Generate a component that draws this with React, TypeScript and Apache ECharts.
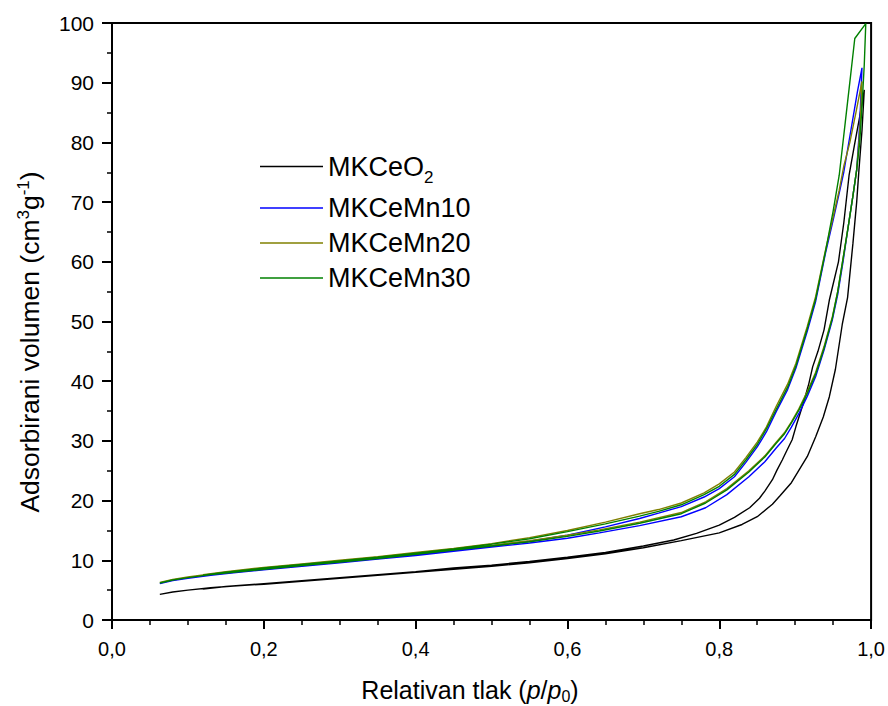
import React, { useEffect, useRef } from "react";
import * as echarts from "echarts";

const seriesNames = ["MKCeO2", "MKCeMn10", "MKCeMn20", "MKCeMn30"];
const seriesColors = ["#000000", "#0000ff", "#808000", "#008000"];

const xMin = 0;
const xMax = 1;
const xStep = 0.2;
const yMin = 0;
const yMax = 100;
const yStep = 10;

// MKCeO2 adsorption / desorption [p/p0, V]
const ceO2Ads: number[][] = [
  [0.063, 4.3], [0.08, 4.7], [0.1, 5.0], [0.13, 5.4], [0.16, 5.7], [0.2, 6.0], [0.25, 6.5], [0.3, 7.0],
  [0.35, 7.5], [0.4, 8.0], [0.45, 8.5], [0.5, 9.0], [0.55, 9.6], [0.6, 10.3], [0.65, 11.1], [0.7, 12.1],
  [0.75, 13.3], [0.8, 14.6], [0.83, 16.0], [0.85, 17.3], [0.87, 19.4], [0.88, 20.8], [0.895, 23.0],
  [0.905, 25.1], [0.916, 27.4], [0.927, 30.7], [0.937, 34.0], [0.945, 37.4], [0.953, 42.0], [0.962, 49.5],
  [0.969, 54.0], [0.976, 63.0], [0.981, 70.0], [0.984, 75.4], [0.988, 82.0], [0.991, 88.8],
];
const ceO2Des: number[][] = [
  [0.991, 88.8], [0.985, 84.3], [0.978, 79.5], [0.971, 74.5], [0.964, 66.5], [0.957, 60.0], [0.945, 53.6],
  [0.938, 48.6], [0.93, 45.0], [0.923, 42.4], [0.918, 39.6], [0.91, 36.0], [0.901, 32.4], [0.896, 30.2],
  [0.889, 28.4], [0.883, 26.8], [0.876, 25.1], [0.87, 23.5], [0.86, 21.6], [0.853, 20.4], [0.84, 18.8],
  [0.82, 17.2], [0.8, 15.9], [0.77, 14.5], [0.74, 13.4], [0.7, 12.4], [0.65, 11.3], [0.6, 10.5], [0.55, 9.8],
  [0.5, 9.2], [0.45, 8.7], [0.4, 8.1], [0.35, 7.6], [0.3, 7.1], [0.25, 6.6], [0.2, 6.1], [0.15, 5.6], [0.12, 5.2],
];

// MKCeMn10
const mn10Ads: number[][] = [
  [0.063, 6.1], [0.08, 6.6], [0.1, 7.0], [0.13, 7.5], [0.16, 7.9], [0.2, 8.4], [0.25, 9.0], [0.3, 9.6],
  [0.35, 10.2], [0.4, 10.8], [0.45, 11.5], [0.5, 12.2], [0.55, 12.9], [0.6, 13.7], [0.642, 14.6], [0.695, 15.8],
  [0.75, 17.3], [0.782, 18.8], [0.81, 21.0], [0.839, 24.0], [0.86, 26.5], [0.875, 28.8], [0.886, 30.4],
  [0.895, 32.3], [0.905, 34.6], [0.916, 37.5], [0.927, 40.8], [0.938, 45.2], [0.949, 50.3], [0.956, 54.5],
  [0.963, 60.0], [0.97, 66.0], [0.976, 71.0], [0.981, 75.4], [0.984, 81.0], [0.986, 86.0], [0.988, 92.5],
];
const mn10Des: number[][] = [
  [0.988, 92.5], [0.982, 88.5], [0.976, 84.0], [0.97, 79.5], [0.964, 75.0], [0.958, 71.5], [0.95, 67.0],
  [0.94, 61.5], [0.927, 53.4], [0.916, 48.4], [0.901, 42.2], [0.89, 38.6], [0.875, 34.9], [0.862, 31.5],
  [0.85, 29.0], [0.835, 26.4], [0.82, 24.0], [0.8, 22.0], [0.78, 20.6], [0.75, 19.0], [0.72, 17.9],
  [0.695, 17.0], [0.65, 15.6], [0.6, 14.2], [0.55, 13.2], [0.5, 12.4], [0.45, 11.7], [0.4, 11.0],
  [0.35, 10.4], [0.3, 9.8], [0.25, 9.2], [0.2, 8.6], [0.15, 7.9], [0.12, 7.4],
];

// MKCeMn20
const mn20Ads: number[][] = [
  [0.063, 6.3], [0.08, 6.8], [0.1, 7.2], [0.13, 7.7], [0.16, 8.1], [0.2, 8.6], [0.25, 9.2], [0.3, 9.8],
  [0.35, 10.4], [0.4, 11.1], [0.45, 11.8], [0.5, 12.5], [0.55, 13.3], [0.6, 14.2], [0.642, 15.1], [0.695, 16.4],
  [0.75, 18.0], [0.782, 19.8], [0.81, 22.0], [0.839, 25.0], [0.86, 27.5], [0.875, 29.8], [0.886, 31.4],
  [0.895, 33.2], [0.905, 35.4], [0.916, 38.3], [0.927, 41.5], [0.938, 45.8], [0.949, 50.8], [0.956, 55.0],
  [0.963, 60.5], [0.97, 66.0], [0.976, 71.0], [0.981, 75.4], [0.984, 80.0], [0.986, 84.0], [0.988, 90.2],
];
const mn20Des: number[][] = [
  [0.988, 90.2], [0.98, 85.0], [0.972, 80.0], [0.964, 76.0], [0.958, 72.0], [0.95, 67.5], [0.94, 62.0],
  [0.927, 54.2], [0.916, 49.2], [0.901, 43.0], [0.89, 39.5], [0.875, 35.8], [0.862, 32.3], [0.85, 29.8],
  [0.835, 27.2], [0.82, 24.8], [0.8, 22.8], [0.78, 21.3], [0.75, 19.6], [0.72, 18.5], [0.695, 17.8],
  [0.65, 16.4], [0.6, 15.0], [0.55, 13.8], [0.5, 12.8], [0.45, 12.0], [0.4, 11.3], [0.35, 10.6],
  [0.3, 10.0], [0.25, 9.4], [0.2, 8.8], [0.15, 8.1], [0.12, 7.6],
];

// MKCeMn30
const mn30Ads: number[][] = [
  [0.063, 6.2], [0.08, 6.7], [0.1, 7.1], [0.13, 7.6], [0.16, 8.0], [0.2, 8.5], [0.25, 9.1], [0.3, 9.7],
  [0.35, 10.3], [0.4, 11.0], [0.45, 11.7], [0.5, 12.4], [0.55, 13.1], [0.6, 14.0], [0.642, 14.9], [0.695, 16.2],
  [0.75, 17.8], [0.782, 19.6], [0.81, 21.8], [0.839, 24.8], [0.86, 27.3], [0.875, 29.6], [0.886, 31.2],
  [0.895, 33.0], [0.905, 35.2], [0.916, 38.0], [0.927, 41.2], [0.938, 45.5], [0.949, 50.6], [0.956, 55.0],
  [0.963, 60.5], [0.97, 66.0], [0.976, 71.0], [0.981, 75.4], [0.985, 80.0], [0.988, 86.0], [0.991, 93.0],
  [0.993, 99.9],
];
const mn30Des: number[][] = [
  [0.993, 99.9], [0.9785, 97.4], [0.972, 90.1], [0.966, 83.4], [0.958, 74.5], [0.95, 68.5], [0.94, 61.8],
  [0.927, 53.8], [0.916, 48.8], [0.901, 42.6], [0.89, 39.0], [0.875, 35.3], [0.862, 32.0], [0.85, 29.4],
  [0.835, 26.8], [0.82, 24.4], [0.8, 22.4], [0.78, 21.0], [0.75, 19.3], [0.72, 18.2], [0.695, 17.4],
  [0.65, 16.1], [0.6, 14.8], [0.55, 13.6], [0.5, 12.7], [0.45, 11.9], [0.4, 11.2], [0.35, 10.5],
  [0.3, 9.9], [0.25, 9.3], [0.2, 8.7], [0.15, 8.0], [0.12, 7.5],
];

const seriesData: number[][][] = [
  [...ceO2Ads, ...ceO2Des],
  [...mn10Ads, ...mn10Des],
  [...mn20Ads, ...mn20Des],
  [...mn30Ads, ...mn30Des],
];

const FONT = "'Liberation Sans', Arial, Helvetica, sans-serif";

export default function App() {
  const ref = useRef<HTMLDivElement>(null);
  useEffect(() => {
    if (!ref.current) return;
    const chart = echarts.init(ref.current, null, { renderer: "svg" });
    const option: any = {
      animation: false,
      backgroundColor: "#ffffff",
      grid: {
        left: 112,
        right: 16,
        top: 23,
        bottom: 86,
        show: true,
        borderColor: "#000",
        borderWidth: 2,
        backgroundColor: "transparent",
      },
      legend: {
        orient: "vertical",
        left: 260,
        top: 153,
        padding: 0,
        icon: "rect",
        itemWidth: 63,
        itemHeight: 1.6,
        itemGap: 8,
        selectedMode: false,
        data: seriesNames,
        formatter: (name: string) =>
          name === "MKCeO2" ? "{t1|MKCeO}{s|2}" : `{t|${name}}`,
        textStyle: {
          color: "#000",
          fontFamily: FONT,
          fontSize: 27,
          rich: {
            t: { fontSize: 27, lineHeight: 26, fontFamily: FONT, color: "#000" },
            t1: { fontSize: 27, lineHeight: 40, fontFamily: FONT, color: "#000" },
            s: { fontSize: 17, lineHeight: 16, verticalAlign: "bottom", fontFamily: FONT, color: "#000" },
          },
        },
      },
      xAxis: {
        type: "value",
        min: xMin,
        max: xMax,
        interval: xStep,
        axisLine: { onZero: false, lineStyle: { color: "#000", width: 2 } },
        axisTick: { length: 9, lineStyle: { color: "#000", width: 2 } },
        minorTick: { show: true, splitNumber: 4, length: 5, lineStyle: { color: "#000", width: 1.5 } },
        splitLine: { show: false },
        axisLabel: {
          color: "#000",
          fontFamily: FONT,
          fontSize: 20,
          margin: 19,
          formatter: (v: number) => v.toFixed(1).replace(".", ","),
        },
      },
      yAxis: {
        type: "value",
        min: yMin,
        max: yMax,
        interval: yStep,
        axisLine: { onZero: false, lineStyle: { color: "#000", width: 2 } },
        axisTick: { length: 10, lineStyle: { color: "#000", width: 2 } },
        minorTick: { show: true, splitNumber: 2, length: 5, lineStyle: { color: "#000", width: 1.5 } },
        splitLine: { show: false },
        axisLabel: {
          color: "#000",
          fontFamily: FONT,
          fontSize: 21,
          margin: 18,
        },
      },
      graphic: [
        {
          type: "text",
          x: 470,
          y: 690,
          style: {
            text: "{a|Relativan tlak (}{i|p}{a|/}{i|p}{s|0}{a|)}",
            align: "center",
            verticalAlign: "middle",
            rich: {
              a: { fontSize: 25, lineHeight: 28, fontFamily: FONT, fill: "#000" },
              i: { fontSize: 25, lineHeight: 28, fontFamily: FONT, fontStyle: "italic", fill: "#000" },
              s: { fontSize: 16, lineHeight: 16, verticalAlign: "bottom", fontFamily: FONT, fill: "#000" },
            },
          },
        },
        {
          type: "text",
          x: 30,
          y: 342,
          rotation: Math.PI / 2,
          style: {
            text: "{a|Adsorbirani volumen (cm}{p|3}{a|g}{p|-1}{a|)}",
            align: "center",
            verticalAlign: "middle",
            rich: {
              a: { fontSize: 26.5, lineHeight: 31, fontFamily: FONT, fill: "#000" },
              p: { fontSize: 17, lineHeight: 17, verticalAlign: "top", fontFamily: FONT, fill: "#000" },
            },
          },
        },
      ],
      series: seriesNames.map((name, i) => ({
        name,
        type: "line",
        data: seriesData[i],
        symbol: "none",
        showSymbol: false,
        smooth: false,
        color: seriesColors[i],
        lineStyle: { color: seriesColors[i], width: 1.4 },
        z: 2 + i,
      })),
    };
    chart.setOption(option);
    return () => chart.dispose();
  }, []);
  return (
    <div
      ref={ref}
      style={{ position: "fixed", left: 0, top: 0, width: 888, height: 706, background: "#fff" }}
    />
  );
}
